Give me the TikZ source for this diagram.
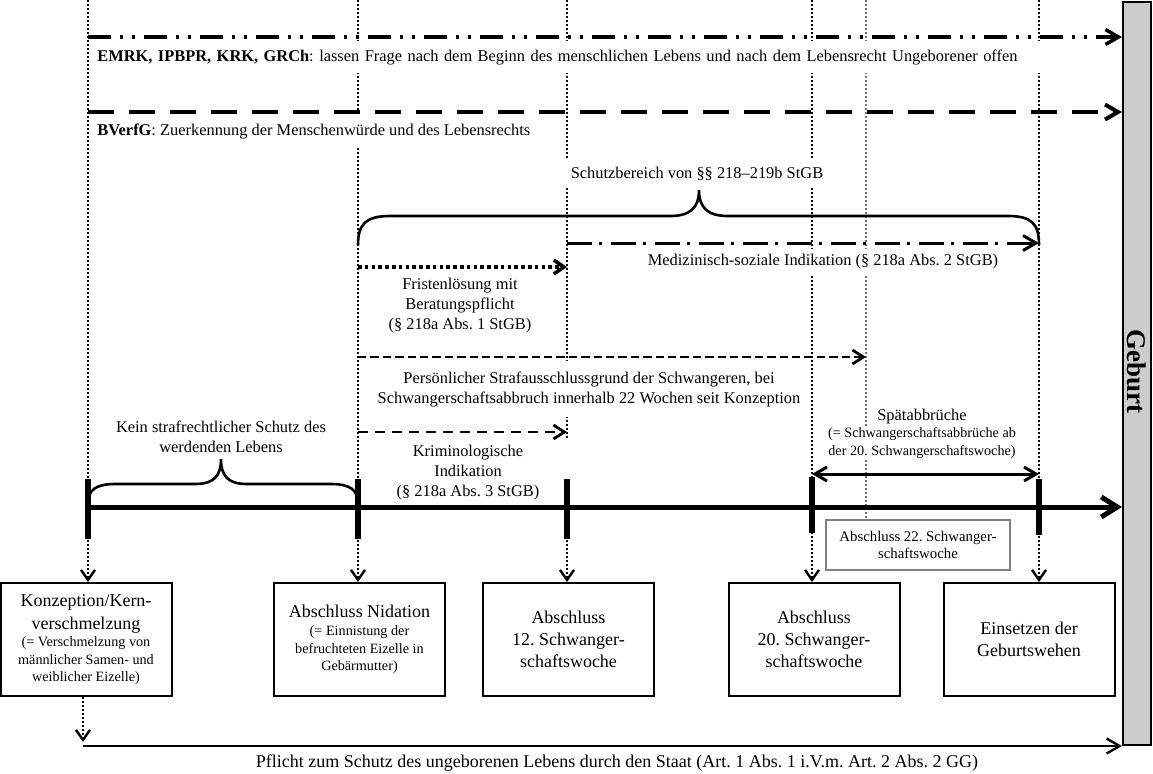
\documentclass[tikz,border=0pt]{standalone}
\usepackage{fontspec}
\setmainfont{Liberation Serif}
\usetikzlibrary{arrows.meta}
\frenchspacing
\begin{document}
\begin{tikzpicture}[x=0.5pt,y=-0.5pt,
  fmain/.style={font=\fontsize{8.2}{10}\selectfont},
  lbl/.style={fmain, fill=white, inner sep=1.5pt, align=center},
  slbl/.style={font=\fontsize{7.1}{8.7}\selectfont, fill=white, inner sep=1pt, align=center},
  vdot/.style={line width=1pt, dash pattern=on 1pt off 1pt},
  vdotlight/.style={line width=0.7pt, black!55, dash pattern=on 0.8pt off 1.2pt},
  ddd/.style={line width=1.8pt, dash pattern=on 11.5pt off 4.5pt on 1.5pt off 4.5pt on 1.5pt off 4.5pt},
  ldash/.style={line width=2pt, dash pattern=on 13pt off 7.5pt},
  dashdot/.style={line width=1.5pt, dash pattern=on 12.5pt off 3.5pt on 1.5pt off 4.5pt},
  tdot/.style={line width=1.8pt, dash pattern=on 1.8pt off 1.6pt},
  sdash/.style={line width=1.4pt, dash pattern=on 4.2pt off 2pt},
  mdash/.style={line width=1.4pt, dash pattern=on 5pt off 3.5pt},
  tipL/.style={-{Straight Barb[length=6.5pt,width=7.5pt]}},
  tipD/.style={-{Straight Barb[length=5pt,width=7pt,line width=1.2pt]}},
  tipM/.style={-{Straight Barb[length=8pt,width=10pt]}},
  tipB/.style={{Straight Barb[length=6pt,width=7pt]}-{Straight Barb[length=6pt,width=7pt]}},
  brace/.style={line width=1.3pt},
  box/.style={draw, line width=1pt, minimum width=85.5pt, minimum height=56.5pt, text width=80pt, align=flush center, inner sep=2pt},
  tick/.style={line width=2.6pt}
]
\useasboundingbox (0,0) rectangle (1153,773);

% Birth bar
\node[draw, line width=1pt, fill=black!20, minimum width=14pt, minimum height=371.5pt, inner sep=0pt] (bar) at (1137,373.5) {};
\node[rotate=-90, font=\fontsize{13.5}{15}\selectfont\bfseries] (gebt) at (1137,371) {Geburt};

% Boxes
\node[box] (b0) at (86,639.5) {\fontsize{9}{11.5}\selectfont Konzeption/Kern-\\verschmelzung\par\fontsize{7.1}{8.7}\selectfont (= Verschmelzung von\\ männlicher Samen- und\\ weiblicher Eizelle)\par};
\node[box] (b1) at (359.5,639.5) {\fontsize{9}{11}\selectfont Abschluss Nidation\par\fontsize{7.1}{8.9}\selectfont (= Einnistung der\\ befruchteten Eizelle in\\ Gebärmutter)\par};
\node[box, font=\fontsize{9}{11}\selectfont] (b2) at (568.5,639.5) {Abschluss\\ 12. Schwanger-\\ schaftswoche};
\node[box, font=\fontsize{9}{11}\selectfont] (b3) at (814,639.5) {Abschluss\\ 20. Schwanger-\\ schaftswoche};
\node[box, font=\fontsize{9}{11}\selectfont] (b4) at (1029,639.5) {Einsetzen der\\ Geburtswehen};
\node[draw=black!50, line width=1pt, minimum width=92pt, minimum height=25pt, align=center, inner sep=1pt, font=\fontsize{7.4}{8.2}\selectfont] (g22) at (918,545) {Abschluss 22. Schwanger-\\ schaftswoche};

% Vertical reference coordinates
\coordinate (v0) at (88,0);
\coordinate (v1) at (358,0);
\coordinate (v2) at (567,0);
\coordinate (v3) at (812,0);
\coordinate (v4) at (866,0);
\coordinate (v5) at (1039,0);

% Vertical dotted lines
\draw[vdot, tipD] (v0) -- (v0 |- b0.north);
\draw[vdot, tipD] (v1) -- (v1 |- b1.north);
\draw[vdot, tipD] (v2) -- (v2 |- b2.north);
\draw[vdot, tipD] (v3) -- (v3 |- b3.north);
\draw[vdotlight] (v4) -- (v4 |- g22.north);
\draw[vdot, tipD] (v5) -- (v5 |- b4.north);

% Text labels (white background interrupts the dotted lines)
\node[lbl, anchor=west, text width=472pt, align=left, minimum height=16pt] (emrk) at (94,57) {\textbf{EMRK, IPBPR, KRK, GRCh}: lassen Frage nach dem Beginn des menschlichen Lebens und nach dem Lebensrecht Ungeborener offen};
\node[lbl, anchor=west, minimum height=15pt] (bverfg) at (94,131) {\textbf{BVerfG}: Zuerkennung der Menschenwürde und des Lebensrechts};
\node[lbl, inner xsep=4pt, minimum height=14pt] (schutz) at (697,174) {Schutzbereich von §§ 218–219b StGB};
\node[lbl, inner ysep=3pt] (medi) at (823,262) {Medizinisch-soziale Indikation (§ 218a Abs. 2 StGB)};
\node[lbl] (frist) at (460,306) {Fristenlösung mit\\ Beratungspflicht\\ (§ 218a Abs. 1 StGB)};
\node[lbl, inner xsep=5pt, inner ysep=5pt] (pers) at (589,389) {Persönlicher Strafausschlussgrund der Schwangeren, bei\\ Schwangerschaftsabbruch innerhalb 22 Wochen seit Konzeption};
\node[lbl, minimum width=104pt, inner ysep=3pt] (krim) at (468,473) {Kriminologische\\ Indikation\\ (§ 218a Abs. 3 StGB)};
\node[lbl] (kein) at (221,437) {Kein strafrechtlicher Schutz des\\ werdenden Lebens};
\node[lbl, inner ysep=3pt] (spat) at (922,417) {Spätabbrüche};
\node[slbl] (spat2) at (922,443) {(= Schwangerschaftsabbrüche ab\\ der 20. Schwangerschaftswoche)};
\node[font=\fontsize{9}{11}\selectfont] (pflicht) at (617,763) {Pflicht zum Schutz des ungeborenen Lebens durch den Staat (Art. 1 Abs. 1 i.V.m. Art. 2 Abs. 2 GG)};

% Horizontal lines
\coordinate (h1) at (88,37);
\coordinate (h2) at (88,112);
\coordinate (h3a) at (567,243);
\coordinate (h3b) at (1039,243);
\coordinate (h4a) at (358,267);
\coordinate (h4b) at (567,267);
\coordinate (h5a) at (358,357);
\coordinate (h5b) at (866,357);
\coordinate (h6a) at (358,432);
\coordinate (h6b) at (567,432);
\coordinate (h7a) at (812,474);
\coordinate (h7b) at (1039,474);
\coordinate (t0) at (88,507);
\coordinate (t1) at (358,507);
\coordinate (t2) at (567,507);
\coordinate (t3) at (812,507);
\coordinate (t5) at (1039,507);
\coordinate (pb) at (83,746);

\draw[ddd, tipL] (h1) -- (h1 -| bar.west);
\draw[ldash, tipL] (h2) -- (h2 -| bar.west);
\draw[dashdot, tipL] (h3a) -- (h3b);
\draw[tdot, -{Straight Barb[length=5pt,width=7pt,line width=1.8pt]}] (h4a) -- (h4b);
\draw[sdash, -{Straight Barb[length=5.5pt,width=7pt]}] (h5a) -- (h5b);
\draw[mdash, -{Straight Barb[length=5.5pt,width=7pt]}] (h6a) -- (h6b);
\draw[line width=1.5pt, tipB] (h7a) -- (h7b);

% Braces
\draw[brace] (358,245) .. controls (358,224) and (366,216) .. (390,216) -- (670,216) .. controls (690,216) and (699,208) .. (699,190) .. controls (699,208) and (708,216) .. (728,216) -- (1008,216) .. controls (1032,216) and (1039,224) .. (1039,245);
\draw[brace] (88,503) .. controls (88,490) and (96,484) .. (115,484) -- (195,484) .. controls (214,484) and (221,476) .. (221,459) .. controls (221,476) and (228,484) .. (247,484) -- (331,484) .. controls (350,484) and (358,490) .. (358,503);

% Main time line
\draw[line width=2.5pt, tipM] (t0) -- (t0 -| bar.west);
\draw[tick] ([yshift=-16pt]t0) -- ([yshift=14pt]t0);
\draw[tick] ([yshift=-16pt]t1) -- ([yshift=14pt]t1);
\draw[tick] ([yshift=-16pt]t2) -- ([yshift=14pt]t2);
\draw[tick] ([yshift=-13pt]t3) -- ([yshift=15pt]t3);
\draw[tick] ([yshift=-14pt]t5) -- ([yshift=14pt]t5);

% Bottom obligation
\draw[vdot, tipD] (b0.south -| pb) -- ([yshift=2pt]pb);
\draw[line width=1.2pt, tipL] (pb) -- (pb -| bar.west);
\end{tikzpicture}
\end{document}
